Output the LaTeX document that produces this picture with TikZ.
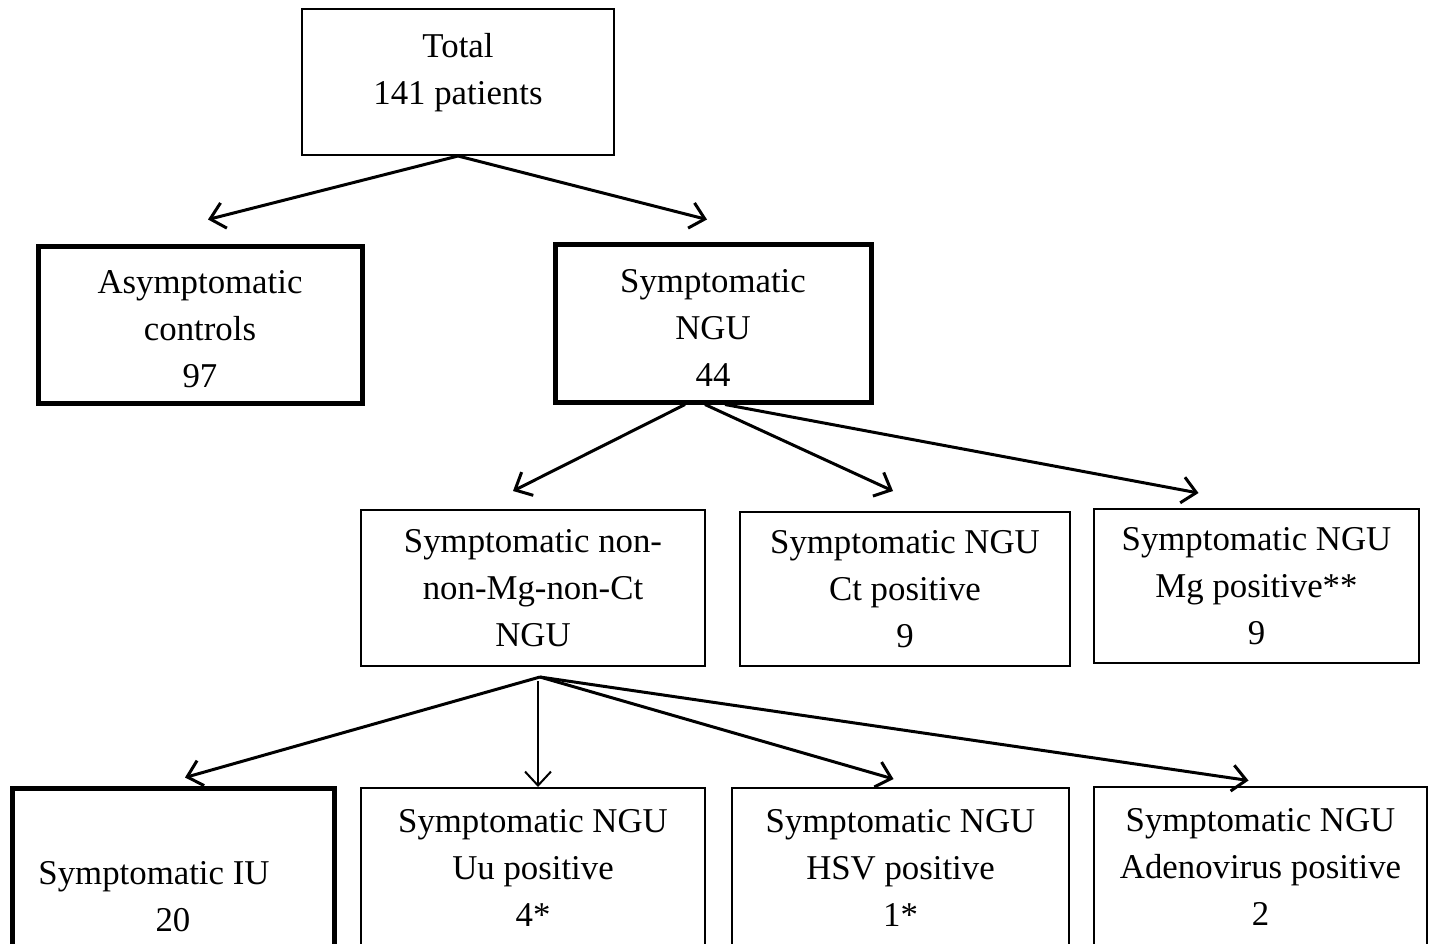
\documentclass[tikz,border=0pt]{standalone}
\usepackage{fontspec}
\setmainfont{Liberation Serif}
\usetikzlibrary{positioning, arrows.meta, calc}

\begin{document}
\begin{tikzpicture}[
  x=0.5pt, y=-0.5pt,
  box/.style={draw, line width=1pt, align=center, inner sep=0pt,
              font=\fontsize{17.4}{23.5}\selectfont},
  heavybox/.style={box, line width=2.5pt},
  arrow/.style={-{Straight Barb[length=7pt, width=13pt]}, line width=1.5pt}
]
  \useasboundingbox (0,0) rectangle (1430,943);

  % top
  \node[box, minimum width=156pt, minimum height=73pt] (total) at (458,82)
    {Total\\141 patients\\[-10pt]\mbox{}};

  % second row
  \node[heavybox, minimum width=162pt, minimum height=78.5pt] (asym) at (200,324.5)
    {\rule{0pt}{16pt}Asymptomatic\\controls\\97};
  \node[heavybox, minimum width=158pt, minimum height=79pt] (ngu) at (713,323)
    {\rule{0pt}{16pt}Symptomatic\\NGU\\44};

  % third row
  \node[box, minimum width=172pt, minimum height=78pt] (nonnon) at (533,588)
    {Symptomatic non-\\non-Mg-non-Ct\\NGU};
  \node[box, minimum width=165pt, minimum height=77pt] (ctpos) at (905,589)
    {Symptomatic NGU\\Ct positive\\9};
  \node[box, minimum width=162.5pt, minimum height=77pt] (mgpos) at (1256.5,586)
    {Symptomatic NGU\\Mg positive**\\9};

  % bottom row (cut off by the page)
  \node[heavybox, minimum width=161pt, minimum height=80pt] (iu) at (173,868)
    {\strut\\Symptomatic IU\rule{19pt}{0pt}\\20};
  \node[box, minimum width=172pt, minimum height=80pt] (uupos) at (533,868)
    {Symptomatic NGU\\Uu positive\\4*};
  \node[box, minimum width=168.5pt, minimum height=80pt] (hsvpos) at (900.5,868)
    {Symptomatic NGU\\HSV positive\\1*};
  \node[box, minimum width=166.5pt, minimum height=80pt] (adeno) at (1260.5,866.5)
    {Symptomatic NGU\\Adenovirus positive\\2};

  % arrows
  \draw[arrow] (total.south) -- ([shift={(8,-24)}]asym.north);
  \draw[arrow] (total.south) -- ([shift={(-6,-22)}]ngu.north);

  \draw[arrow] ([shift={(-28,0)}]ngu.south) -- ([shift={(-20,-18)}]nonnon.north);
  \draw[arrow] ([shift={(-8,0)}]ngu.south) -- ([shift={(-12,-20)}]ctpos.north);
  \draw[arrow] ([shift={(12,0)}]ngu.south) -- ([shift={(-58,-15)}]mgpos.north);

  \draw[arrow] ([shift={(7,10)}]nonnon.south) -- ([shift={(12,-8)}]iu.north);
  \draw[arrow, line width=1pt] ([shift={(5,14)}]nonnon.south) -- ([shift={(5,0)}]uupos.north);
  \draw[arrow] ([shift={(7,10)}]nonnon.south) -- ([shift={(-7,-8)}]hsvpos.north);
  \draw[arrow] ([shift={(7,10)}]nonnon.south) -- ([shift={(-12,-5)}]adeno.north);
\end{tikzpicture}
\end{document}
